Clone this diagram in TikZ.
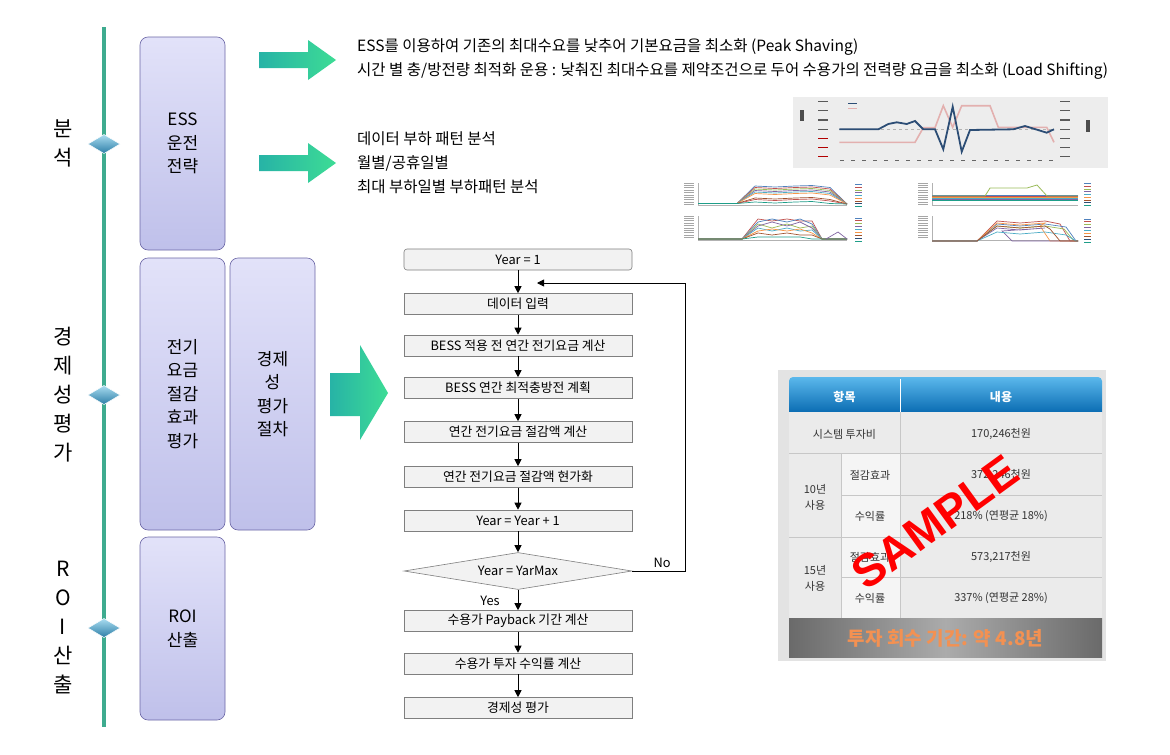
\documentclass[tikz,border=0pt]{standalone}
\usepackage{fontspec}
\setmainfont{Noto Sans CJK KR}
\newfontfamily\stampfont{Liberation Sans}
\usepackage{tikz}
\usetikzlibrary{arrows.meta,shapes.geometric}

\definecolor{timeteal}{HTML}{3EAB8F}
\definecolor{boxtop}{HTML}{E2E2F9}
\definecolor{boxbot}{HTML}{BFC0EA}
\definecolor{boxedge}{HTML}{6B66A6}
\definecolor{arrl}{HTML}{27B3A6}
\definecolor{arrr}{HTML}{3DDC95}
\definecolor{diamtop}{HTML}{A9DDF1}
\definecolor{diambot}{HTML}{2C7DA6}
\definecolor{flowfill}{HTML}{F2F2F2}
\definecolor{flowedge}{HTML}{7F7F7F}
\definecolor{tabframe}{HTML}{E3E3E3}
\definecolor{cellgray}{HTML}{EBEBEB}
\definecolor{cellsub}{HTML}{F5F5F5}
\definecolor{hdtop}{HTML}{5BB8EC}
\definecolor{hdbot}{HTML}{0B6DB3}
\definecolor{ftedge}{HTML}{6A6A6A}
\definecolor{ftmid}{HTML}{ABABAB}
\definecolor{fttext}{HTML}{F39152}
\definecolor{chartbg}{HTML}{EDEDED}
\definecolor{c1}{HTML}{4F81BD}
\definecolor{c2}{HTML}{C0504D}
\definecolor{c3}{HTML}{9BBB59}
\definecolor{c4}{HTML}{8064A2}
\definecolor{c5}{HTML}{4BACC6}
\definecolor{c6}{HTML}{F79646}
\definecolor{c7}{HTML}{A0522D}
\definecolor{c8}{HTML}{2C4D75}
\definecolor{c9}{HTML}{1F9E89}

\tikzset{
    phase/.style={draw=boxedge, line width=0.6pt, rounded corners=8pt, top color=boxtop, bottom color=boxbot,
        align=center, font=\fontsize{17}{23.5}\selectfont},
    side/.style={align=center, font=\fontsize{21}{29}\selectfont},
    note/.style={anchor=west, align=left, inner sep=0pt, font=\fontsize{15.5}{24}\selectfont},
    flowbox/.style={draw=flowedge, fill=flowfill, line width=0.6pt, minimum width=228pt, minimum height=21pt,
        inner sep=0pt, font=\fontsize{12.8}{14}\selectfont},
    arr/.style={-{Triangle[length=7pt,width=7pt]}, line width=0.8pt},
    cell/.style={text=black!80, align=center, font=\fontsize{11}{16}\selectfont},
    blockarrow/.style={left color=arrl, right color=arrr}
}

\begin{document}
\begin{tikzpicture}[x=1pt, y=-1pt]
    \useasboundingbox[fill=white] (0,0) rectangle (1170,755);

    % Asse temporale
    \draw[timeteal, line width=4pt] (104,27) -- (104,727);
    \foreach \y in {144,395,628}
        \path[draw=white, line width=0.5pt, top color=diamtop, bottom color=diambot]
            (88,\y) -- (104,\y-9.5) -- (120,\y) -- (104,\y+9.5) -- cycle;

    \node[side] (anal) at (63,143.5) {분\\석};
    \node[side] (econ) at (63,395) {경\\제\\성\\평\\가};
    \node[side] (roi) at (63,628) {R\\O\\I\\산\\출};

    % Blocchi
    \node[phase, minimum width=85pt, minimum height=213pt] (ess) at (182.5,143.5) {ESS\\운전\\전략};
    \node[phase, minimum width=85pt, minimum height=272pt] (fee) at (182.5,394) {전기\\요금\\절감\\효과\\평가};
    \node[phase, minimum width=85pt, minimum height=272pt] (proc) at (272.5,394) {경제\\성\\평가\\절차};
    \node[phase, minimum width=85pt, minimum height=183pt] (calc) at (182.5,628.5) {ROI\\산출};

    % Frecce
    \path[blockarrow] (259,52) -- (308,52) -- (308,40) -- (336,60) -- (308,80) -- (308,68) -- (259,68) -- cycle;
    \path[blockarrow] (259,155) -- (308,155) -- (308,143) -- (336,163) -- (308,183) -- (308,171) -- (259,171) -- cycle;
    \path[blockarrow] (330,373) -- (360,373) -- (360,345) -- (388,393) -- (360,440) -- (360,416) -- (330,416) -- cycle;

    \node[note] (peak) at (357,59) {ESS를 이용하여 기존의 최대수요를 낮추어 기본요금을 최소화 (Peak Shaving)\\
        시간 별 충/방전량 최적화 운용 : 낮춰진 최대수요를 제약조건으로 두어 수용가의 전력량 요금을 최소화 (Load Shifting)};
    \node[note] (load) at (357,163) {데이터 부하 패턴 분석\\월별/공휴일별\\최대 부하일별 부하패턴 분석};

    % Grafico in alto
    \fill[chartbg] (793,97) rectangle (1108,168);
    \draw[gray!60, dashed, line width=0.4pt] (839,129.3) -- (1054,129.3);
    \draw[c2!45, line width=1.6pt] plot coordinates {(839.3,142.3) (915,142.3) (923.3,127.7) (935,127.7) (943.3,105.7)
        (952.7,127.3) (961.7,105.7) (990,105.7) (998.3,127.3) (1046.7,127.3) (1054,142.3)};
    \draw[c8, line width=1.8pt] plot coordinates {(839.3,129.3) (878.3,129.3) (888.3,124) (896.7,122.3) (906.7,124)
        (915,121) (923.3,129.3) (935,129.3) (943.3,149.3) (952.7,106.7) (961.7,151.7) (970,130) (1013.3,129.3)
        (1025,126) (1046.7,132.7) (1054,129.3)};
    \draw[c8, line width=1pt] (848,103.3) -- (857,103.3);
    \draw[c2!45, line width=1pt] (848,108.3) -- (857,108.3);
    \foreach \y in {101.7,110.7,120,129.3} \draw[black!65, line width=1.2pt] (818,\y) -- (828,\y);
    \foreach \y in {138.3,147.3,156.7} \draw[red!70!black, line width=1.2pt] (818,\y) -- (828,\y);
    \foreach \y in {101.7,110.7,120,129.3,138.3,147.3,156.7} \draw[black!65, line width=1.2pt] (1060,\y) -- (1070,\y);
    \foreach \x in {842,853,...,1054} \draw[black!60, line width=1pt] (\x-2,160.7) -- (\x+2,160.7);
    \fill[black!70] (800,110) rectangle (803.5,121);
    \fill[black!70] (1086,120) rectangle (1089.5,132);

    % Grafici piccoli
    \foreach \yb/\yt in {205/183, 240/216} {
        \draw[gray!60, line width=0.4pt] (698,\yt) -- (698,\yb) -- (847,\yb);
        \draw[gray!60, line width=0.4pt] (932,\yt) -- (932,\yb) -- (1078,\yb);
        \foreach \i in {0,...,9} {
            \draw[black!35, line width=0.8pt] (684,\yt+\i*2.4) -- (694,\yt+\i*2.4);
            \draw[black!35, line width=0.8pt] (918,\yt+\i*2.4) -- (928,\yt+\i*2.4);
        }
    }
    \foreach \c/\h in {c1/186,c2/187.5,c3/189,c4/190.5,c5/192,c6/193.5,c7/198,c2/199.5,c9/202}
        \draw[\c, line width=.7pt] (698,203.5) -- (737,203.5) -- (755,\h) -- (775,\h+1) -- (795,\h) -- (812,\h-0.5)
            -- (830,\h+1.5) -- (847,204);
    \foreach \c/\h/\k in {c2/219/2,c1/222/-3,c3/224/4,c4/226/-4,c5/228/3,c6/231/-2,c7/233/2,c9/237/0}
        \draw[\c, line width=.7pt] (698,239) -- (742,239) -- (758,\h) -- (772,\h+\k) -- (787,\h) -- (800,\h+\k)
            -- (812,\h+2) -- (822,239) -- (847,239);
    \draw[c4, line width=.7pt] (826,239) -- (838,232) -- (847,239);
    \foreach \c/\h in {c1/195,c2/196.5,c6/197.5,c5/198.5,c4/199.5,c9/200.5}
        \draw[\c, line width=.7pt] (932,\h) -- (1078,\h);
    \draw[c3, line width=.8pt] (932,196) -- (985,196) -- (990,188) -- (1027,188) -- (1037,185) -- (1047,196) -- (1078,196);
    \foreach \c/\h/\e in {c2/221/1060,c1/224/1066,c3/226/1064,c6/223/1040,c4/228/1002,c5/232/1066,c7/226/1050}
        \draw[\c, line width=.7pt] (932,241) -- (977,241) -- (997,\h) -- (1020,\h+2) -- (1045,\h) -- (\e,\h+3)
            -- (\e+10,241) -- (1078,241);
    \foreach \c [count=\i] in {c1,c2,c3,c4,c5,c6,c7,c8,c9} {
        \draw[\c, line width=.8pt] (855,182+2.7*\i) -- (862,182+2.7*\i);
        \draw[\c, line width=.8pt] (855,215+2.9*\i) -- (862,215+2.9*\i);
        \draw[\c, line width=.8pt] (1084,181+2.7*\i) -- (1091,181+2.7*\i);
        \draw[\c, line width=.8pt] (1084,216+2.9*\i) -- (1091,216+2.9*\i);
    }

    % Diagramma di flusso
    \node[flowbox, rounded corners=3pt] (y1) at (518,259.5) {Year = 1};
    \node[flowbox] (input) at (518,304) {데이터 입력};
    \node[flowbox] (bill) at (518,345.5) {BESS 적용 전 연간 전기요금 계산};
    \node[flowbox] (plan) at (518,388) {BESS 연간 최적충방전 계획};
    \node[flowbox] (save) at (518,432) {연간 전기요금 절감액 계산};
    \node[flowbox] (pv) at (518,477) {연간 전기요금 절감액 현가화};
    \node[flowbox] (inc) at (518,520.5) {Year = Year + 1};
    \node[flowbox, diamond, aspect=6.16, minimum width=228pt, minimum height=37pt] (chk) at (518,571) {Year = YarMax};
    \node[flowbox] (pay) at (518,621) {수용가 Payback 기간 계산};
    \node[flowbox] (rate) at (518,663.5) {수용가 투자 수익률 계산};
    \node[flowbox] (eval) at (518,708) {경제성 평가};

    \foreach \a/\b in {y1/input, input/bill, bill/plan, plan/save, save/pv, pv/inc, inc/chk, chk/pay, pay/rate, rate/eval}
        \draw[arr] (\a) -- (\b);

    \coordinate (turn) at (685,283);
    \coordinate (back) at (537,283);
    \draw[arr] (chk.east) -| (turn) -- (back);
    \node[font=\fontsize{12.8}{14}\selectfont] (no) at (662,563) {No};
    \node[font=\fontsize{12.8}{14}\selectfont] (yes) at (490,601) {Yes};

    % Tabella
    \fill[tabframe] (778,370) rectangle (1106,661);
    \path[top color=hdtop, bottom color=hdbot] (789,412) [rounded corners=4pt] -- (789,377) -- (1102,377)
        [sharp corners] -- (1102,412) -- cycle;
    \fill[cellgray] (789,412) rectangle (1102,618);
    \fill[cellsub] (841,453) rectangle (900,618);
    \draw[white, line width=1pt] (900,379) -- (900,412);
    \draw[black!22, line width=1pt] (900,412) -- (900,618) (841,453) -- (841,618)
        (789,453) -- (1102,453) (841,495) -- (1102,495) (789,537) -- (1102,537) (841,577) -- (1102,577);
    \path[left color=ftedge, right color=ftedge, middle color=ftmid] (789,618) rectangle (1102,657);

    \node[cell, text=white, font=\bfseries\fontsize{12}{14}\selectfont] (hitem) at (844.5,397) {항목};
    \node[cell, text=white, font=\bfseries\fontsize{12}{14}\selectfont] (hval) at (1001,397) {내용};
    \node[cell] (sys) at (844.5,434) {시스템 투자비};
    \node[cell] (sysv) at (1001,434) {170,246천원};
    \node[cell] (ten) at (815,497) {10년\\사용};
    \node[cell] (tsave) at (870,475) {절감효과};
    \node[cell] (tsavev) at (1001,475) {372,246천원};
    \node[cell] (trate) at (870,516) {수익률};
    \node[cell] (tratev) at (1001,516) {218\% (연평균 18\%)};
    \node[cell] (fif) at (815,578) {15년\\사용};
    \node[cell] (fsave) at (870,557) {절감효과};
    \node[cell] (fsavev) at (1001,557) {573,217천원};
    \node[cell] (frate) at (870,598) {수익률};
    \node[cell] (fratev) at (1001,598) {337\% (연평균 28\%)};
    \node[text=fttext, font=\bfseries\fontsize{19}{20}\selectfont] (payback) at (945.5,638) {투자 회수 기간: 약 4.8년};

    \node[rotate=36, text=red, font=\stampfont\bfseries\fontsize{46}{46}\selectfont] (stamp) at (935,522) {SAMPLE};
\end{tikzpicture}
\end{document}
